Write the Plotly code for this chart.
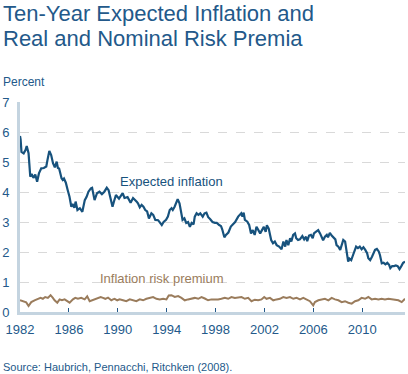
import plotly.graph_objects as go

# ---- Data ----
ei_years = [1982.00, 1982.05, 1982.12, 1982.30, 1982.45, 1982.55, 1982.70, 1982.84, 1982.95, 1983.10,
            1983.25, 1983.40, 1983.55, 1983.74, 1983.95, 1984.15, 1984.25, 1984.40, 1984.55, 1984.70,
            1984.85, 1985.00, 1985.10, 1985.20, 1985.40, 1985.50, 1985.60, 1985.75, 1985.90, 1986.05,
            1986.20, 1986.30, 1986.45, 1986.55, 1986.70, 1986.90, 1987.10, 1987.30, 1987.45, 1987.60,
            1987.80, 1987.90, 1988.10, 1988.30, 1988.50, 1988.70, 1988.90, 1989.10, 1989.25, 1989.40,
            1989.57, 1989.70, 1989.85, 1990.10, 1990.40, 1990.55, 1990.80, 1990.95, 1991.05, 1991.25,
            1991.40, 1991.55, 1991.65, 1991.80, 1991.95, 1992.10, 1992.25, 1992.40, 1992.55, 1992.75,
            1992.90, 1993.07, 1993.30, 1993.45, 1993.60, 1993.75, 1993.95, 1994.10, 1994.25, 1994.40,
            1994.50, 1994.65, 1994.80, 1994.90, 1995.05, 1995.15, 1995.30, 1995.45, 1995.60, 1995.75,
            1995.90, 1996.05, 1996.20, 1996.30, 1996.45, 1996.60, 1996.75, 1996.95, 1997.10, 1997.25,
            1997.40, 1997.55, 1997.75, 1997.95, 1998.10, 1998.30, 1998.45, 1998.55, 1998.72, 1998.85,
            1999.05, 1999.25, 1999.60, 1999.85, 2000.10, 2000.20, 2000.30, 2000.40, 2000.60, 2000.75,
            2000.90, 2001.05, 2001.20, 2001.35, 2001.50, 2001.65, 2001.80, 2001.95, 2002.10, 2002.20,
            2002.35, 2002.45, 2002.55, 2002.70, 2002.85, 2003.00, 2003.20, 2003.40, 2003.55, 2003.70,
            2003.80, 2003.95, 2004.10, 2004.20, 2004.35, 2004.50, 2004.60, 2004.75, 2004.90, 2005.10,
            2005.25, 2005.40, 2005.50, 2005.65, 2005.80, 2005.95, 2006.05, 2006.20, 2006.40, 2006.55,
            2006.65, 2006.80, 2006.95, 2007.10, 2007.20, 2007.35, 2007.50, 2007.65, 2007.80, 2007.90,
            2008.05, 2008.20, 2008.35, 2008.45, 2008.60, 2008.70, 2008.85, 2008.95, 2009.10, 2009.25,
            2009.40, 2009.50, 2009.65, 2009.80, 2009.95, 2010.10, 2010.25, 2010.40, 2010.50, 2010.65,
            2010.80, 2010.95, 2011.05, 2011.20, 2011.35, 2011.45, 2011.60, 2011.75, 2011.90, 2012.05,
            2012.20, 2012.30, 2012.45, 2012.60, 2012.75, 2012.90, 2013.05, 2013.20, 2013.35, 2013.50]
expected_inflation = [5.87, 5.75, 5.34, 5.29, 5.40, 5.53, 5.29, 4.51, 4.60, 4.47,
                      4.58, 4.34, 4.62, 4.79, 4.80, 4.85, 5.07, 5.37, 5.23, 4.96,
                      4.82, 5.01, 4.80, 4.78, 4.46, 4.40, 4.45, 4.31, 4.07, 3.84,
                      3.51, 3.60, 3.47, 3.68, 3.40, 3.46, 3.34, 3.73, 3.84, 4.01,
                      4.12, 4.14, 3.73, 3.96, 4.01, 3.93, 4.01, 4.14, 4.06, 3.84,
                      3.51, 3.70, 3.90, 3.78, 3.96, 3.80, 3.83, 3.72, 3.64, 3.80,
                      3.75, 3.68, 3.62, 3.49, 3.57, 3.51, 3.40, 3.35, 3.12, 3.29,
                      3.24, 3.07, 3.06, 2.97, 2.90, 3.00, 3.07, 3.18, 3.40, 3.46,
                      3.40, 3.51, 3.64, 3.76, 3.62, 3.37, 3.07, 3.12, 2.97, 3.00,
                      2.84, 2.97, 2.92, 3.18, 3.29, 3.24, 3.29, 3.18, 3.29, 3.31,
                      3.16, 3.10, 3.00, 2.97, 2.97, 2.90, 2.86, 2.75, 2.49, 2.57,
                      2.65, 2.85, 3.00, 3.18, 3.29, 3.18, 3.31, 3.07, 3.01, 2.90,
                      2.62, 2.73, 2.57, 2.84, 2.75, 2.62, 2.73, 2.84, 2.67, 2.89,
                      2.78, 2.62, 2.40, 2.29, 2.35, 2.23, 2.18, 2.09, 2.35, 2.18,
                      2.40, 2.23, 2.46, 2.35, 2.57, 2.62, 2.46, 2.40, 2.42, 2.53,
                      2.42, 2.51, 2.36, 2.55, 2.57, 2.46, 2.62, 2.67, 2.73, 2.62,
                      2.51, 2.39, 2.51, 2.57, 2.49, 2.64, 2.55, 2.48, 2.42, 2.23,
                      2.18, 2.07, 2.30, 2.40, 2.35, 2.10, 1.68, 1.78, 1.73, 1.90,
                      2.07, 2.18, 2.13, 2.18, 2.09, 2.16, 2.07, 1.96, 1.79, 1.73,
                      1.84, 1.96, 2.07, 2.10, 2.02, 1.90, 1.62, 1.64, 1.59, 1.64,
                      1.57, 1.46, 1.53, 1.53, 1.55, 1.53, 1.43, 1.53, 1.64, 1.68]

rp_years = [1982.00, 1982.23, 1982.51, 1982.70, 1982.92, 1983.19, 1983.46, 1983.68, 1983.87, 1984.06,
            1984.28, 1984.50, 1984.69, 1984.83, 1985.05, 1985.24, 1985.43, 1985.65, 1985.87, 1986.06,
            1986.33, 1986.52, 1986.74, 1987.01, 1987.29, 1987.50, 1987.70, 1987.89, 1988.11, 1988.38,
            1988.60, 1988.79, 1988.98, 1989.20, 1989.47, 1989.61, 1989.74, 1989.96, 1990.15, 1990.43,
            1990.70, 1990.98, 1991.25, 1991.52, 1991.80, 1992.07, 1992.34, 1992.62, 1992.89, 1993.16,
            1993.44, 1993.71, 1993.98, 1994.17, 1994.39, 1994.66, 1994.94, 1995.21, 1995.48, 1995.75,
            1996.03, 1996.30, 1996.58, 1996.85, 1997.12, 1997.39, 1997.66, 1997.94, 1998.21, 1998.48,
            1998.76, 1999.03, 1999.30, 1999.58, 1999.85, 2000.12, 2000.40, 2000.67, 2000.94, 2001.21,
            2001.49, 2001.76, 2001.98, 2002.17, 2002.45, 2002.72, 2002.99, 2003.27, 2003.54, 2003.81,
            2004.09, 2004.36, 2004.63, 2004.91, 2005.18, 2005.45, 2005.72, 2005.99, 2006.13, 2006.41,
            2006.68, 2006.95, 2007.23, 2007.50, 2007.77, 2008.05, 2008.32, 2008.59, 2008.86, 2009.14,
            2009.41, 2009.68, 2009.95, 2010.23, 2010.50, 2010.77, 2011.05, 2011.32, 2011.59, 2011.86,
            2012.14, 2012.41, 2012.68, 2012.96, 2013.23, 2013.50]
risk_premium = [0.39, 0.36, 0.32, 0.20, 0.33, 0.39, 0.42, 0.47, 0.44, 0.50,
                0.47, 0.56, 0.47, 0.39, 0.31, 0.42, 0.39, 0.42, 0.36, 0.31,
                0.42, 0.47, 0.44, 0.47, 0.42, 0.52, 0.36, 0.39, 0.44, 0.47,
                0.50, 0.47, 0.44, 0.48, 0.39, 0.42, 0.44, 0.39, 0.42, 0.39,
                0.36, 0.42, 0.39, 0.36, 0.42, 0.39, 0.44, 0.47, 0.50, 0.44,
                0.42, 0.44, 0.42, 0.55, 0.56, 0.50, 0.53, 0.47, 0.39, 0.42,
                0.44, 0.47, 0.44, 0.50, 0.45, 0.39, 0.42, 0.41, 0.42, 0.44,
                0.47, 0.44, 0.50, 0.47, 0.48, 0.50, 0.44, 0.47, 0.36, 0.41,
                0.39, 0.42, 0.50, 0.44, 0.47, 0.39, 0.42, 0.44, 0.50, 0.47,
                0.50, 0.44, 0.47, 0.42, 0.47, 0.42, 0.36, 0.22, 0.33, 0.39,
                0.42, 0.44, 0.39, 0.47, 0.42, 0.39, 0.33, 0.36, 0.31, 0.28,
                0.36, 0.39, 0.47, 0.44, 0.50, 0.42, 0.44, 0.42, 0.44, 0.42,
                0.44, 0.42, 0.39, 0.39, 0.33, 0.44]

x_tick_vals = [1982, 1986, 1990, 1994, 1998, 2002, 2006, 2010]
x_tick_text = ["1982", "1986", "1990", "1994", "1998", "2002", "2006", "2010"]
y_tick_vals = [0, 1, 2, 3, 4, 5, 6, 7]

title_line1 = "Ten-Year Expected Inflation and"
title_line2 = "Real and Nominal Risk Premia"
unit_text = "Percent"
source_text = "Source: Haubrich, Pennacchi, Ritchken (2008)."

# ---- Styling ----
FONT = "Liberation Sans, Arial, sans-serif"
BLUE_LINE = "#17527d"
BROWN_LINE = "#9a7c5c"
TEXT_BLUE = "#23598a"
AXIS_COLOR = "#c4d4e0"
GRID_COLOR = "#d9d9d9"

fig = go.Figure()
fig.add_trace(go.Scatter(x=rp_years, y=risk_premium, mode="lines",
                         line=dict(color=BROWN_LINE, width=2), hoverinfo="skip"))
fig.add_trace(go.Scatter(x=ei_years, y=expected_inflation, mode="lines",
                         line=dict(color=BLUE_LINE, width=2.2), hoverinfo="skip"))

# plot area: y from 102px (7) to 312px (0); x from 20px to 405px
L, R, T, B = 20, 3, 102, 62
W_PLOT = 408.0 - L - R
H_PLOT = 374.0 - T - B

def py_to_paper(py):
    return (374.0 - B - py) / H_PLOT

def px_to_paper(px):
    return (px - L) / W_PLOT

def add_text(text, px, py, size, color, yanchor):
    fig.add_annotation(text=text, xref="paper", yref="paper", x=px_to_paper(px), y=py_to_paper(py),
                       xanchor="left", yanchor=yanchor, align="left", showarrow=False,
                       font=dict(family=FONT, size=size, color=color))

add_text(title_line1, 0.5, -1.0, 22, TEXT_BLUE, "top")
add_text(title_line2, 0.5, 23.5, 22, TEXT_BLUE, "top")
add_text(unit_text, 0.5, 90.5, 12, TEXT_BLUE, "bottom")
add_text(source_text, 0.5, 374.5, 11, TEXT_BLUE, "bottom")

fig.add_annotation(text="Expected inflation", x=1990.05, y=4.35, xref="x", yref="y",
                   xanchor="left", yanchor="middle", showarrow=False,
                   font=dict(family=FONT, size=13, color=BLUE_LINE))
fig.add_annotation(text="Inflation risk premium", x=1988.35, y=1.13, xref="x", yref="y",
                   xanchor="left", yanchor="middle", showarrow=False,
                   font=dict(family=FONT, size=13, color=BROWN_LINE))

fig.update_layout(
    width=408, height=374,
    margin=dict(l=L, r=R, t=T, b=B),
    paper_bgcolor="white", plot_bgcolor="white",
    showlegend=False,
    font=dict(family=FONT, size=13, color=TEXT_BLUE),
)
fig.update_xaxes(range=[1982, 2013.5], tickvals=x_tick_vals, ticktext=x_tick_text,
                 showgrid=False, zeroline=False, automargin=False,
                 showline=True, linecolor=AXIS_COLOR, linewidth=3,
                 ticks="inside", ticklen=4, tickwidth=1, tickcolor=TEXT_BLUE,
                 ticklabelstandoff=3,
                 tickfont=dict(family=FONT, size=13, color=TEXT_BLUE))
fig.update_yaxes(range=[0, 7], tickvals=y_tick_vals,
                 showgrid=True, gridcolor=GRID_COLOR, griddash="dash", gridwidth=1,
                 zeroline=False, automargin=False,
                 showline=True, linecolor=AXIS_COLOR, linewidth=3,
                 ticks="", ticklabelstandoff=5,
                 tickfont=dict(family=FONT, size=13, color=TEXT_BLUE))

fig.write_html("out.html",
               config={"displayModeBar": False},
               post_script="document.body.style.margin='0';document.body.style.padding='0';"
                           "document.documentElement.style.overflow='hidden';")
